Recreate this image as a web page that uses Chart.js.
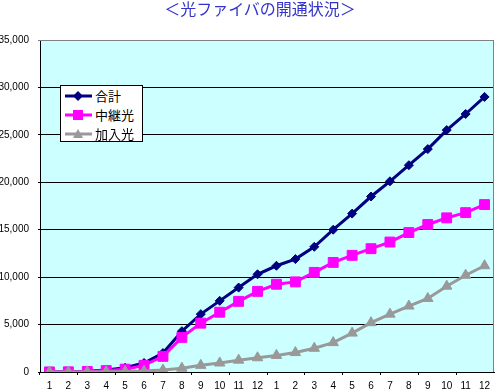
<!DOCTYPE html>
<html><head><meta charset="utf-8">
<script src="https://cdn.jsdelivr.net/npm/chart.js@4"></script>
<style>
html,body{margin:0;padding:0;background:#fff;}
#wrap{position:relative;width:502px;height:392px;overflow:hidden;}
#title{position:absolute;left:0;top:-2px;width:520px;text-align:center;font-family:"Noto Sans CJK JP";font-size:16px;color:#3333CC;line-height:20px;}
#legend{position:absolute;left:60px;top:85px;width:81px;height:55px;border:1px solid #000;background:#fff;font-family:"Noto Sans CJK JP";font-size:13px;}
.row{position:absolute;left:0;width:81px;height:19px;line-height:19px;}
.row svg{position:absolute;left:2px;top:0;}
.row span{position:absolute;left:34px;top:0;color:#000;}
</style></head>
<body><div id="wrap"><canvas id="c" width="502" height="392"></canvas><div id="title">＜光ファイバの開通状況＞</div><div id="legend"></div></div>
<script>
// ---- data ----
const categories = ['1','2','3','4','5','6','7','8','9','10','11','12','1','2','3','4','5','6','7','8','9','10','11','12'];
const seriesNames = ['合計','中継光','加入光'];
const totalValues = [20, 30, 80, 200, 450, 950, 2000, 4300, 6100, 7500, 8900, 10300, 11200, 11900, 13200, 15000, 16700, 18500, 20100, 21800, 23500, 25500, 27200, 29000];
const relayValues = [10, 20, 60, 150, 300, 700, 1650, 3650, 5150, 6300, 7450, 8500, 9250, 9500, 10500, 11550, 12300, 13000, 13700, 14700, 15550, 16250, 16800, 17650];
const subscriberValues = [0, 0, 10, 30, 60, 100, 200, 400, 700, 950, 1250, 1500, 1750, 2050, 2500, 3100, 4100, 5200, 6100, 6950, 7750, 9050, 10200, 11200];
const yTicks = [0, 5000, 10000, 15000, 20000, 25000, 30000, 35000];

const colors = ['#000080', '#FF00FF', '#999999'];
const styles = ['rectRot', 'rect', 'triangle'];
const radii = [4.5, 7, 6];

const bgPlugin = {
  id: 'bg',
  beforeDraw(chart) {
    const a = chart.chartArea, c = chart.ctx;
    c.save(); c.fillStyle = '#CCFFFF';
    c.fillRect(a.left, a.top, a.right - a.left, a.bottom - a.top);
    c.restore();
  },
  afterDatasetsDraw(chart) {
    const a = chart.chartArea, c = chart.ctx;
    c.save(); c.strokeStyle = '#808080'; c.lineWidth = 1;
    c.beginPath();
    c.moveTo(a.left, a.top + 0.5); c.lineTo(a.right - 0.5, a.top + 0.5); c.lineTo(a.right - 0.5, a.bottom);
    c.stroke(); c.restore();
  }
};

const allValues = [totalValues, relayValues, subscriberValues];
const datasets = allValues.map((vals, i) => ({
  label: seriesNames[i],
  data: vals,
  borderColor: colors[i],
  backgroundColor: colors[i],
  borderWidth: 3,
  pointStyle: styles[i],
  pointRadius: radii[i],
  pointBorderWidth: 1,
  pointBorderColor: colors[i],
  pointBackgroundColor: colors[i],
  tension: 0,
  order: 2 - i
}));

new Chart(document.getElementById('c'), {
  type: 'line',
  data: { labels: categories, datasets },
  plugins: [bgPlugin],
  options: {
    responsive: false,
    animation: false,
    devicePixelRatio: 1,
    layout: { padding: { top: 40, right: 1, left: 0, bottom: 0 } },
    plugins: { legend: { display: false }, title: { display: false }, tooltip: { enabled: false } },
    scales: {
      x: {
        offset: true,
        afterFit(s) { s.height = 20; },
        grid: {
          display: true, drawOnChartArea: false, offset: true, tickLength: 3,
          color: ctx => (ctx.index % 2 === 0 ? '#000' : 'rgba(0,0,0,0)')
        },
        border: { color: '#000', width: 1 },
        ticks: { autoSkip: false, maxRotation: 0, minRotation: 0, padding: 5, color: '#000', font: { family: 'Liberation Sans', size: 10 } }
      },
      y: {
        min: 0, max: 35000,
        afterFit(s) { s.width = 40; },
        afterBuildTicks(s) { s.ticks = yTicks.map(v => ({ value: v })); },
        grid: {
          color: ctx => (ctx.tick && ctx.tick.value === 35000 ? '#808080' : '#000'),
          tickLength: 2, lineWidth: 1
        },
        border: { color: '#000', width: 1 },
        ticks: {
          padding: 9, color: '#000', font: { family: 'Liberation Sans', size: 10 },
          callback: v => Number(v).toLocaleString('en-US')
        }
      }
    }
  }
});

// legend (HTML)
const leg = document.getElementById('legend');
seriesNames.forEach((name, i) => {
  const row = document.createElement('div');
  row.className = 'row';
  row.style.top = (i * 19) + 'px';
  let marker;
  if (styles[i] === 'rectRot') marker = `<polygon points="15,5 20,10 15,15 10,10" fill="${colors[i]}"/>`;
  else if (styles[i] === 'rect') marker = `<rect x="10" y="5" width="10" height="10" fill="${colors[i]}"/>`;
  else marker = `<polygon points="15,5 20,14 10,14" fill="${colors[i]}"/>`;
  row.innerHTML = `<svg width="30" height="19"><line x1="2" y1="10" x2="29" y2="10" stroke="${colors[i]}" stroke-width="3"/>${marker}</svg><span>${name}</span>`;
  leg.appendChild(row);
});
</script>
</body></html>
